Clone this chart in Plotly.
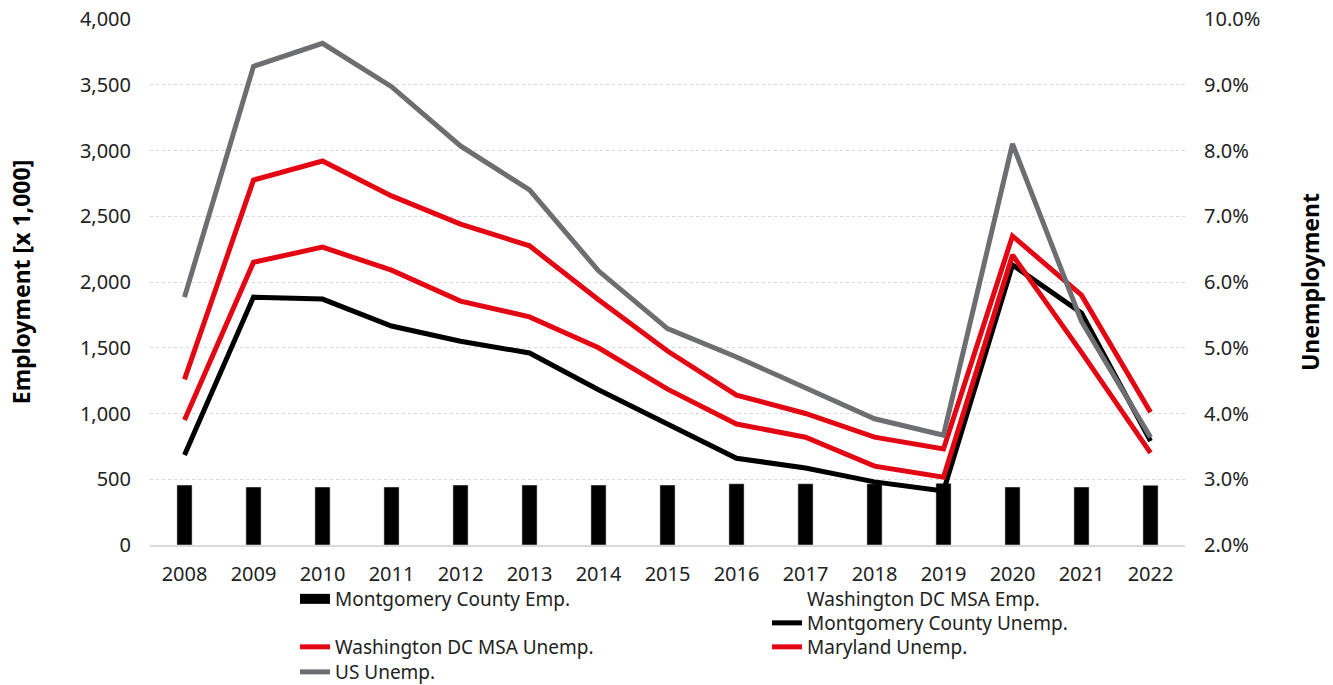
import plotly.graph_objects as go

years = [str(y) for y in range(2008, 2023)]

mc_emp = [456, 441, 441, 441, 456, 456, 456, 456, 466, 466, 466, 469, 441, 441, 454]
dc_emp = [None] * 15  # series shown in legend only (no fill in original)

mc_unemp = [3.37, 5.77, 5.74, 5.33, 5.10, 4.92, 4.36, 3.83, 3.32, 3.17, 2.96, 2.82, 6.26, 5.53, 3.58]
dc_unemp = [3.90, 6.30, 6.53, 6.18, 5.71, 5.47, 5.00, 4.37, 3.84, 3.64, 3.20, 3.03, 6.41, 4.93, 3.40]
md_unemp = [4.52, 7.55, 7.84, 7.31, 6.88, 6.55, 5.73, 4.95, 4.28, 4.00, 3.64, 3.46, 6.70, 5.80, 4.02]
us_unemp = [5.77, 9.28, 9.63, 8.97, 8.07, 7.40, 6.17, 5.29, 4.86, 4.39, 3.92, 3.67, 8.10, 5.40, 3.64]

RED = "#E30613"
GRAY = "#6D6E71"
FONT = "Noto Sans"
FS = 20
LFS = 19

fig = go.Figure()
fig.add_trace(go.Bar(x=years, y=mc_emp, name="Montgomery County Emp.", marker_color="black",
                     width=0.22, showlegend=False))
# legend swatch for the bar series (wide black block as in original)
fig.add_trace(go.Scatter(x=[None], y=[None], name="Montgomery County Emp.", mode="lines",
                         line=dict(color="black", width=13), legend="legend"))
fig.add_trace(go.Bar(x=years, y=dc_emp, name="Washington DC MSA Emp.",
                     marker=dict(color="rgba(0,0,0,0)", line=dict(width=0)),
                     width=0.22, legend="legend2"))
fig.add_trace(go.Scatter(x=years, y=[v / 100 for v in mc_unemp], name="Montgomery County Unemp.",
                         mode="lines", line=dict(color="black", width=5), yaxis="y2", legend="legend3"))
fig.add_trace(go.Scatter(x=years, y=[v / 100 for v in dc_unemp], name="Washington DC MSA Unemp.",
                         mode="lines", line=dict(color=RED, width=5), yaxis="y2", legend="legend4"))
fig.add_trace(go.Scatter(x=years, y=[v / 100 for v in md_unemp], name="Maryland Unemp.",
                         mode="lines", line=dict(color=RED, width=5), yaxis="y2", legend="legend5"))
fig.add_trace(go.Scatter(x=years, y=[v / 100 for v in us_unemp], name="US Unemp.",
                         mode="lines", line=dict(color=GRAY, width=5), yaxis="y2", legend="legend6"))

H = 526.0
def leg(text_x, row_y):
    lx = (text_x - 41 - 150) / 1035.0
    top = row_y - 19
    return dict(orientation="v", font=dict(family=FONT, size=LFS, color="#222"),
                bgcolor="rgba(0,0,0,0)", yanchor="top", xanchor="left",
                x=lx, y=-(top - 545) / H)

fig.update_layout(
    width=1333, height=685,
    margin=dict(l=150, r=148, t=19, b=140, autoexpand=False),
    paper_bgcolor="white", plot_bgcolor="white",
    font=dict(family=FONT, size=FS, color="#222"),
    barmode="overlay",
    showlegend=True,
    legend=leg(336, 599),
    legend2=leg(808, 599),
    legend3=leg(808, 623),
    legend4=leg(336, 647),
    legend5=leg(808, 647),
    legend6=leg(336, 672),
    xaxis=dict(type="category", showgrid=False, showline=True, linecolor="#d9d9d9", linewidth=2,
               ticks="outside", ticklen=10, tickcolor="rgba(0,0,0,0)",
               tickfont=dict(family=FONT, size=FS, color="#222")),
    yaxis=dict(range=[0, 4000], dtick=500, tickformat=",d", showgrid=True,
               gridcolor="#d9d9d9", griddash="dot", gridwidth=1, zeroline=False,
               ticklabelstandoff=18, tickfont=dict(family=FONT, size=FS, color="#222"),
               title=dict(text="<b>Employment [x 1,000]</b>", standoff=42,
                          font=dict(family=FONT, size=23, color="black"))),
    yaxis2=dict(range=[0.02, 0.10], dtick=0.01, tickformat=".1%", overlaying="y", side="right",
                showgrid=False, zeroline=False, ticklabelstandoff=18,
                tickfont=dict(family=FONT, size=FS, color="#222"),
                title=dict(text="<b>Unemployment</b>", standoff=43,
                           font=dict(family=FONT, size=23, color="black"))),
)

fig.write_html("out.html")
